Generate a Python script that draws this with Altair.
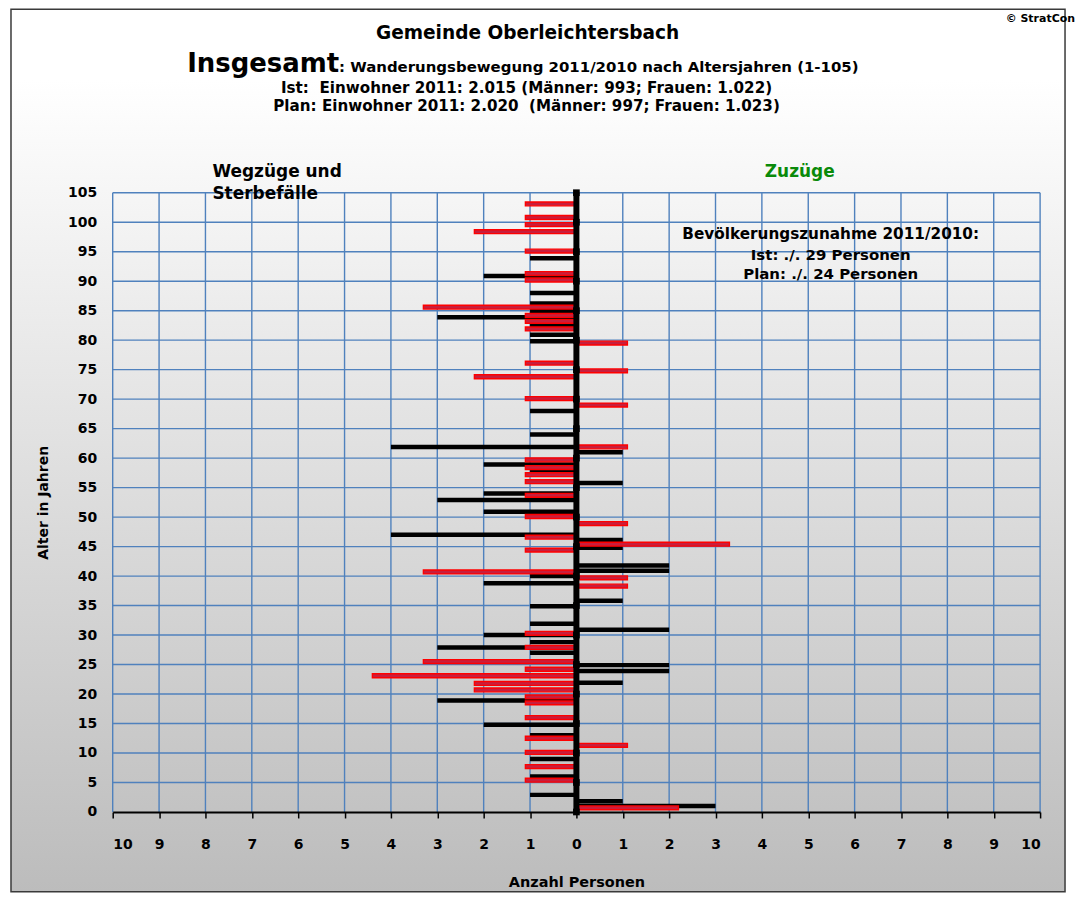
import altair as alt
import pandas as pd

# ---------------- data ----------------
# Ist (black): Wegzüge und Sterbefälle (left side)
ist_weg_alter = [93.9, 90.9, 88.0, 86.2, 85.0, 83.9, 82.6, 80.9, 79.8, 68.0, 64.0,
                 61.9, 58.9, 57.9, 54.0, 52.9, 50.9, 47.0, 40.0, 38.8, 34.9, 31.9,
                 30.0, 28.8, 27.9, 27.0, 18.9, 14.8, 13.0, 9.0, 6.0, 2.9]
ist_weg_anzahl = [1, 2, 1, 1, 1, 3, 1, 1, 1, 1, 1,
                  4, 2, 1, 2, 3, 2, 4, 1, 2, 1, 1,
                  2, 1, 3, 1, 3, 2, 1, 1, 1, 1]
# Ist (black): Zuzüge (right side)
ist_zu_alter = [61.0, 55.8, 46.1, 44.8, 41.8, 40.9, 35.8, 30.9, 24.9, 23.9, 21.9, 1.8, 1.0]
ist_zu_anzahl = [1, 1, 1, 1, 2, 2, 1, 2, 2, 2, 1, 1, 3]
# Plan (red): Wegzüge und Sterbefälle (left side)
plan_weg_alter = [103.1, 100.8, 99.6, 98.4, 95.1, 91.3, 90.2, 85.6, 84.2, 83.2, 81.9,
                  76.1, 73.8, 70.1, 59.7, 58.4, 57.2, 56.0, 53.7, 50.1, 46.6, 44.4,
                  40.7, 30.3, 27.9, 25.5, 24.2, 23.1, 21.8, 20.7, 19.5, 18.5, 16.0,
                  12.5, 10.1, 7.7, 5.4]
plan_weg_anzahl = [1.1, 1.1, 1.1, 2.2, 1.1, 1.1, 1.1, 3.3, 1.1, 1.1, 1.1,
                   1.1, 2.2, 1.1, 1.1, 1.1, 1.1, 1.1, 1.1, 1.1, 1.1, 1.1,
                   3.3, 1.1, 1.1, 3.3, 1.1, 4.4, 2.2, 2.2, 1.1, 1.1, 1.1,
                   1.1, 1.1, 1.1, 1.1]
# Plan (red): Zuzüge (right side)
plan_zu_alter = [79.5, 74.8, 69.0, 61.9, 48.9, 45.4, 39.7, 38.3, 11.3, 0.7]
plan_zu_anzahl = [1.1, 1.1, 1.1, 1.1, 1.1, 3.3, 1.1, 1.1, 1.1, 2.2]

x_ticks = list(range(-10, 11))
y_ticks = list(range(0, 106, 5))

copyright_text = "© StratCon"
title_text = "Gemeinde Oberleichtersbach"
title_big = "Insgesamt"
title_rest = ": Wanderungsbewegung 2011/2010 nach Altersjahren (1-105)"
ist_line = "Ist:\u00a0 Einwohner 2011: 2.015 (Männer: 993; Frauen: 1.022)"
plan_line = "Plan: Einwohner 2011: 2.020\u00a0 (Männer: 997; Frauen: 1.023)"
left_label = ["Wegzüge und", "Sterbefälle"]
right_label = "Zuzüge"
note_lines = ["Bevölkerungszunahme 2011/2010:", "Ist: ./. 29 Personen", "Plan: ./. 24 Personen"]

# ---------------- tables ----------------
def side_rows(alter, anzahl, sign):
    return pd.DataFrame({"alter": alter, "wert": [sign * v for v in anzahl], "null": 0.0})

ist_df = pd.concat([side_rows(ist_weg_alter, ist_weg_anzahl, -1),
                    side_rows(ist_zu_alter, ist_zu_anzahl, 1)], ignore_index=True)
plan_df = pd.concat([side_rows(plan_weg_alter, plan_weg_anzahl, -1),
                     side_rows(plan_zu_alter, plan_zu_anzahl, 1)], ignore_index=True)

vgrid = pd.DataFrame({"wert": x_ticks, "alter": 0, "alter2": 105})
hgrid = pd.DataFrame({"alter": y_ticks[1:], "wert": -10, "wert2": 10})
zero_line = pd.DataFrame({"wert": [0], "alter": [0], "alter2": [105]})
zero_marks = pd.DataFrame({"wert": 0, "alter": y_ticks})

W, H = 930, 621
FONT = "DejaVu Sans"
GRID = "#4f81bd"

X_SCALE = alt.Scale(domain=[-10, 10], nice=False, zero=False, padding=0)
Y_SCALE = alt.Scale(domain=[0, 105], nice=False, zero=False, padding=0)

x_axis = alt.Axis(values=x_ticks, labelExpr="abs(datum.value)", grid=False,
                  domainColor="black", domainWidth=2, tickColor="black", tickWidth=1.5,
                  tickSize=6, labelPadding=20, labelFont=FONT, labelFontWeight="bold",
                  labelFontSize=14, labelColor="black", title="Anzahl Personen",
                  titleFont=FONT, titleFontWeight="bold", titleFontSize=14.5,
                  titleColor="black", titleX=W / 2, titleY=71, titleBaseline="middle",
                  zindex=1)
y_axis = alt.Axis(values=y_ticks, grid=False, domain=False, ticks=False, labelPadding=16,
                  labelFont=FONT, labelFontWeight="bold", labelFontSize=14,
                  labelColor="black", title="Alter in Jahren", titleFont=FONT,
                  titleFontWeight="bold", titleFontSize=14, titleColor="black",
                  titleX=-69, titleY=H / 2, titleBaseline="middle", titleAlign="center",
                  zindex=1)


def X(f):
    return alt.X(f, type="quantitative", scale=X_SCALE, axis=x_axis)


def Y(f):
    return alt.Y(f, type="quantitative", scale=Y_SCALE, axis=y_axis)


one = pd.DataFrame({"t": [""]})

background = alt.Chart(one).mark_rect(
    fill=alt.LinearGradient(gradient="linear", x1=0, y1=0, x2=0, y2=1,
                            stops=[alt.GradientStop(color="#ffffff", offset=0),
                                   alt.GradientStop(color="#ffffff", offset=0.08),
                                   alt.GradientStop(color="#bcbcbc", offset=1)]),
    stroke="#3a3a3a", strokeWidth=1.5
).encode(x=alt.value(-102), x2=alt.value(955), y=alt.value(-184), y2=alt.value(H + 80))

vgrid_layer = alt.Chart(vgrid).mark_rule(color=GRID, strokeWidth=1.4).encode(
    x=X("wert"), y=Y("alter"), y2="alter2")
hgrid_layer = alt.Chart(hgrid).mark_rule(color=GRID, strokeWidth=1.4).encode(
    x=X("wert"), x2="wert2", y=Y("alter"))

ist_layer = alt.Chart(ist_df).mark_bar(color="black", size=4.5).encode(
    x=X("wert"), x2="null", y=Y("alter"))
plan_layer = alt.Chart(plan_df).mark_bar(fill="#c81e3c", stroke="#ff0000",
                                         strokeWidth=1.4, size=3.9).encode(
    x=X("wert"), x2="null", y=Y("alter"))

zero_layer = alt.Chart(zero_line).mark_rule(color="black", strokeWidth=6).encode(
    x=X("wert"), y=Y("alter"), y2="alter2")
zero_mark_layer = alt.Chart(zero_marks).mark_point(
    shape="square", filled=True, color="black", opacity=1, size=45).encode(
    x=X("wert"), y=Y("alter"))


def txt(s, x, y, size, align="center", color="black"):
    return alt.Chart(pd.DataFrame({"t": [s]})).mark_text(
        font=FONT, fontWeight="bold", fontSize=size, align=align,
        baseline="alphabetic", color=color).encode(
        text="t:N", x=alt.value(x), y=alt.value(y))


texts = [
    txt(copyright_text, 965, -171, 11, align="right"),
    txt(title_text, 416, -154, 18.6),
    txt(title_big, 227, -121, 26, align="right"),
    txt(title_rest, 227, -121, 15, align="left"),
    txt(ist_line, 415, -100, 15.2),
    txt(plan_line, 415, -82, 15.2),
    txt(left_label[0], 100, -16, 17, align="left"),
    txt(left_label[1], 100, 6, 17, align="left"),
    txt(right_label, 689, -16, 17, color="#0a8a0a"),
    txt(note_lines[0], 720, 46, 15.3),
    txt(note_lines[1], 720, 67, 15),
    txt(note_lines[2], 720, 87, 15),
]

chart = alt.layer(
    background, vgrid_layer, hgrid_layer, ist_layer, plan_layer,
    zero_layer, zero_mark_layer, *texts
).properties(
    width=W, height=H,
    autosize=alt.AutoSizeParams(type="none"),
    padding={"left": 105, "top": 184, "right": 35, "bottom": 80},
).configure_view(stroke=None).configure(background="white")

chart.save("out.html", embed_options={"renderer": "svg", "actions": False})
